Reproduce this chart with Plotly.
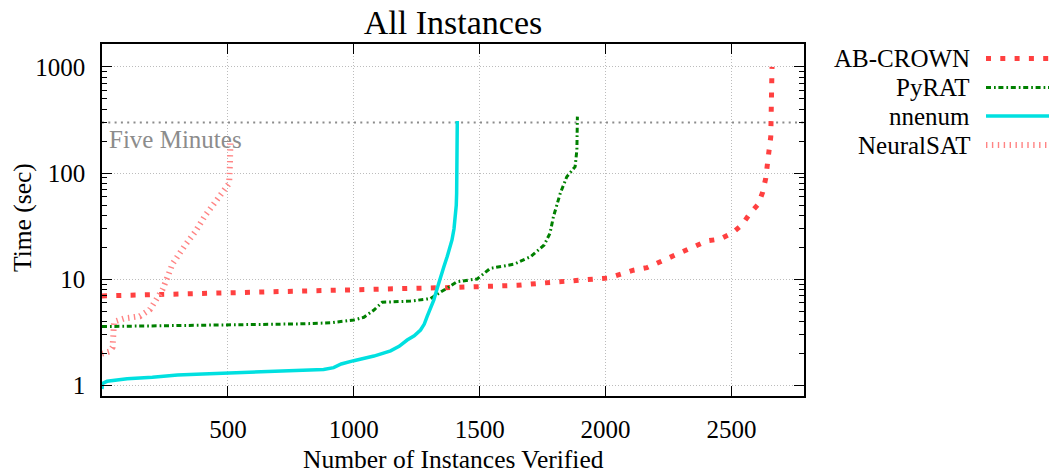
import plotly.graph_objects as go
import math

# ---------------- data ----------------
abcrown_x = [0, 100, 250, 400, 600, 800, 950, 1200, 1400, 1515, 1650, 1740, 1800, 1900, 2010,
             2060, 2111, 2164, 2217, 2257, 2310, 2356, 2402, 2455, 2502, 2541, 2574, 2607, 2624,
             2636, 2644, 2649, 2656, 2658, 2660, 2661]
abcrown_y = [7.0, 7.1, 7.3, 7.5, 7.7, 7.9, 8.1, 8.2, 8.4, 8.5, 8.8, 9.2, 9.5, 9.85, 10.3,
             11.2, 12.2, 12.9, 14.6, 16.4, 18.2, 20.3, 23.0, 24.0, 27.2, 32.5, 41.9, 51.2, 66.4,
             89.3, 119, 162, 220, 305, 543, 1000]

pyrat_x = [0, 200, 400, 600, 800, 907, 1000, 1040, 1080, 1113, 1225, 1304, 1357, 1410, 1490,
           1542, 1636, 1703, 1756, 1779, 1793, 1820, 1846, 1879, 1886, 1888]
pyrat_y = [3.6, 3.65, 3.7, 3.75, 3.82, 3.91, 4.15, 4.4, 5.15, 6.1, 6.25, 6.6, 7.95, 9.5, 10.1,
           12.7, 13.9, 16.4, 21.1, 27.1, 39, 64.5, 92.4, 115, 165, 340]

nnenum_x = [0, 2, 20, 100, 200, 300, 400, 500, 600, 700, 800, 880, 920, 950, 1000, 1080, 1146,
            1180, 1212, 1240, 1265, 1280, 1291, 1305, 1318, 1331, 1344, 1358, 1371, 1382, 1390,
            1398, 1404, 1407, 1408.5, 1409.5, 1410, 1410.6, 1411]
nnenum_y = [0.93, 1.05, 1.1, 1.16, 1.2, 1.26, 1.29, 1.32, 1.35, 1.37, 1.39, 1.42, 1.48, 1.6, 1.72,
            1.9, 2.13, 2.35, 2.69, 2.95, 3.34, 3.8, 4.46, 5.3, 6.4, 8.2, 10.6, 13.2, 16.4, 20,
            23.5, 30, 39, 50, 65, 90, 115, 200, 310]

neuralsat_x = [0, 30, 42, 48, 90, 150, 190, 215, 240, 260, 280, 330, 370, 410, 460, 490, 505, 508, 510]
neuralsat_y = [2.0, 2.1, 2.3, 4.0, 4.3, 4.5, 5.2, 6.3, 8.0, 10.5, 14, 21, 28, 40, 58, 70, 80, 120, 190]

FIVE_MINUTES = 300
X_MAX = 2788
x_tickvals = [500, 1000, 1500, 2000, 2500]
y_tickvals = [1, 10, 100, 1000]
y_ticktext = ["1", "10", "100", "1000"]
y_minor = [m * d for d in (1, 10, 100, 1000) for m in range(2, 10)]

series_names = ["AB-CROWN", "PyRAT", "nnenum", "NeuralSAT"]

# ---------------- styles ----------------
FONT = "Liberation Serif"
W, H = 1054, 475
ML, MR, MT, MB = 102, 250, 44, 79
PW, PH = W - ML - MR, H - MT - MB

styles = [
    dict(color="#ff4040", width=5, dash="5px,9.3px"),
    dict(color="#008000", width=3, dash="5px,3px,1.7px,2.7px"),
    dict(color="#00e0e0", width=3.5, dash="solid"),
    dict(color="#ff8484", width=6, dash="1.4px,4.5px"),
]


def px2paper_x(px):
    return (px - ML) / PW


def px2paper_y(py):
    return (H - MB - py) / PH


fig = go.Figure()

# five-minute reference line
fig.add_trace(go.Scatter(x=[0, X_MAX], y=[FIVE_MINUTES, FIVE_MINUTES], mode="lines",
                         line=dict(color="#8c8c8c", width=2, dash="2px,4.3px"),
                         showlegend=False, hoverinfo="skip"))

for name, xs, ys, st in zip(series_names,
                            [abcrown_x, pyrat_x, nnenum_x, neuralsat_x],
                            [abcrown_y, pyrat_y, nnenum_y, neuralsat_y],
                            styles):
    fig.add_trace(go.Scatter(x=xs, y=ys, mode="lines", name=name,
                             line=dict(color=st["color"], width=st["width"], dash=st["dash"]),
                             showlegend=False))

annotations = []
shapes = []
# custom legend: right-aligned text, sample on the right
legend_rows = [58.5, 87.5, 116, 145]
for name, st, ry in zip(series_names, styles, legend_rows):
    annotations.append(dict(text=name, xref="paper", yref="paper",
                            x=px2paper_x(972), y=px2paper_y(ry), xanchor="right", yanchor="middle",
                            showarrow=False, font=dict(family=FONT, size=25, color="black")))
    shapes.append(dict(type="line", xref="paper", yref="paper",
                       x0=px2paper_x(986), x1=px2paper_x(1049),
                       y0=px2paper_y(ry), y1=px2paper_y(ry),
                       line=dict(color=st["color"], width=st["width"], dash=st["dash"])))

# "Five Minutes" label
annotations.append(dict(text="Five Minutes", xref="x", yref="y", x=0, y=math.log10(FIVE_MINUTES),
                        xanchor="left", yanchor="middle", xshift=5, yshift=-17, showarrow=False,
                        font=dict(family=FONT, size=25, color="#8c8c8c")))
# axis titles
annotations.append(dict(text="Number of Instances Verified", xref="paper", yref="paper",
                        x=0.5, y=px2paper_y(459), xanchor="center", yanchor="middle",
                        showarrow=False, font=dict(family=FONT, size=25.5, color="black")))
annotations.append(dict(text="Time (sec)", xref="paper", yref="paper", textangle=-90,
                        x=px2paper_x(23), y=px2paper_y(218), xanchor="center", yanchor="middle",
                        showarrow=False, font=dict(family=FONT, size=25.5, color="black")))

fig.update_layout(
    width=W, height=H, autosize=False,
    margin=dict(l=ML, r=MR, t=MT, b=MB, pad=0),
    paper_bgcolor="white", plot_bgcolor="white",
    font=dict(family=FONT, size=25, color="black"),
    title=dict(text="All Instances", x=453 / W, xanchor="center",
               y=1 - 22 / H, yanchor="middle", yref="container",
               font=dict(family=FONT, size=34, color="black")),
    annotations=annotations,
    shapes=shapes,
    showlegend=False,
)

fig.update_xaxes(
    range=[0, X_MAX], tickvals=x_tickvals, ticks="inside", ticklen=10, tickwidth=1.3,
    tickcolor="black", showline=True, linecolor="black", linewidth=1.5, mirror="allticks",
    showgrid=True, gridcolor="#bcbcbc", griddash="1px,2px", gridwidth=1, zeroline=False,
    tickfont=dict(family=FONT, size=25, color="black"), ticklabelstandoff=10,
)
fig.update_yaxes(
    type="log", range=[math.log10(0.8), math.log10(1640)],
    tickvals=y_tickvals, ticktext=y_ticktext, ticks="inside", ticklen=10, tickwidth=1.3,
    tickcolor="black", showline=True, linecolor="black", linewidth=1.5, mirror="allticks",
    showgrid=True, gridcolor="#bcbcbc", griddash="1px,2px", gridwidth=1, zeroline=False,
    minor=dict(tickvals=y_minor, ticks="inside", ticklen=5, tickwidth=1.2, tickcolor="black",
               showgrid=False),
    tickfont=dict(family=FONT, size=25, color="black"), ticklabelstandoff=10,
)

# remove the default page margin so the figure sits at the window's top-left corner
fig.write_html("out.html", config={"displayModeBar": False},
               post_script="document.body.style.margin='0';document.body.style.overflow='hidden';")
